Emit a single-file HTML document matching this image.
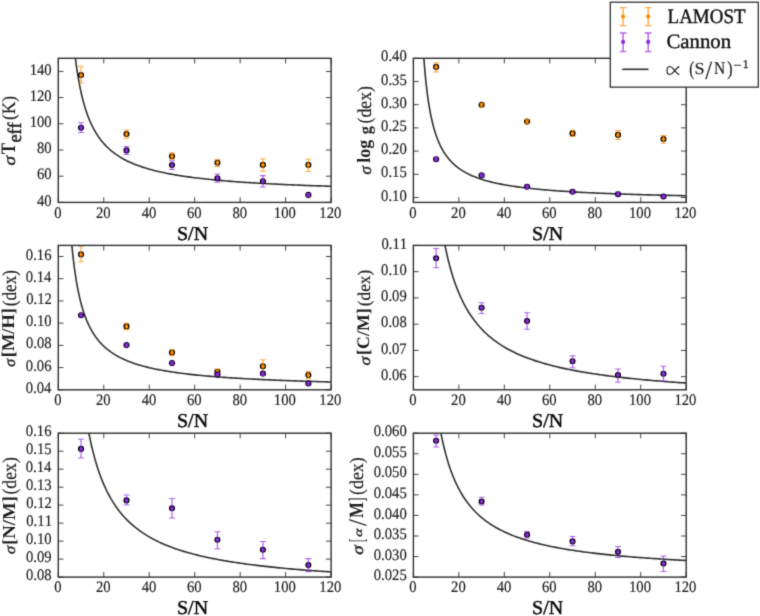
<!DOCTYPE html><html><head><meta charset="utf-8"><style>
html,body{margin:0;padding:0;background:#fff;width:760px;height:616px;overflow:hidden}
svg{display:block}
text{font-family:"Liberation Serif",serif;font-size:100px;font-kerning:none;font-variant-ligatures:none;font-feature-settings:"kern" 0,"liga" 0;text-rendering:geometricPrecision;white-space:pre}
.r{font-weight:normal;font-style:normal}.b{font-weight:bold;font-style:normal}.i{font-weight:normal;font-style:italic}
</style></head><body>
<svg width="760" height="616" viewBox="0 0 760 616">
<rect width="760" height="616" fill="#fff"/>
<filter id="bl" x="0" y="0" width="760" height="616" filterUnits="userSpaceOnUse" color-interpolation-filters="sRGB"><feConvolveMatrix order="3" kernelMatrix="0.0192 0.1001 0.0192 0.1001 0.5228 0.1001 0.0192 0.1001 0.0192" edgeMode="duplicate"/></filter><g filter="url(#bl)">
<clipPath id="c00"><rect x="58.3" y="58.3" width="272.8" height="144.1"/></clipPath>
<polyline clip-path="url(#c00)" points="75.04,55.3 75.26,57.17 75.49,58.99 75.72,60.76 75.94,62.49 76.17,64.18 76.4,65.82 76.63,67.42 76.85,68.98 77.08,70.5 77.31,71.99 77.54,73.44 77.76,74.86 77.99,76.24 78.22,77.6 78.45,78.92 78.67,80.22 78.9,81.48 79.13,82.72 79.35,83.93 79.58,85.11 79.81,86.27 80.04,87.41 80.26,88.52 80.49,89.61 80.72,90.68 80.95,91.72 81.17,92.75 81.74,95.22 82.31,97.58 82.88,99.83 83.45,101.98 84.01,104.03 84.58,105.99 85.15,107.88 85.72,109.68 86.29,111.41 86.86,113.07 87.42,114.66 87.99,116.2 88.56,117.68 89.13,119.1 89.7,120.47 90.27,121.79 90.83,123.07 91.4,124.3 91.97,125.49 92.54,126.64 93.11,127.76 93.68,128.83 94.24,129.88 94.81,130.89 95.38,131.87 95.95,132.82 96.52,133.74 97.09,134.64 97.65,135.51 98.22,136.35 98.79,137.17 99.36,137.97 99.93,138.75 100.5,139.5 101.06,140.24 101.63,140.96 102.2,141.65 102.77,142.33 103.34,143 103.91,143.64 106.18,146.07 108.45,148.28 110.73,150.3 113,152.16 115.27,153.86 117.55,155.43 119.82,156.89 122.09,158.24 124.37,159.5 126.64,160.68 128.91,161.78 131.19,162.81 133.46,163.78 135.73,164.69 138.01,165.55 140.28,166.36 142.55,167.13 144.83,167.86 147.1,168.55 149.37,169.21 151.65,169.83 153.92,170.43 156.19,170.99 158.47,171.53 160.74,172.05 163.01,172.55 165.29,173.02 167.56,173.48 169.83,173.91 172.11,174.33 174.38,174.73 176.65,175.12 178.93,175.49 181.2,175.85 183.47,176.19 185.75,176.53 188.02,176.85 190.29,177.16 192.57,177.46 194.84,177.75 197.11,178.03 199.39,178.3 201.66,178.56 203.93,178.81 206.21,179.06 208.48,179.3 210.75,179.53 213.03,179.76 215.3,179.97 217.57,180.19 219.85,180.39 222.12,180.59 224.39,180.79 226.67,180.98 228.94,181.16 231.21,181.34 233.49,181.52 235.76,181.69 238.03,181.86 240.31,182.02 242.58,182.18 244.85,182.33 247.13,182.48 249.4,182.63 251.67,182.77 253.95,182.91 256.22,183.05 258.49,183.18 260.77,183.32 263.04,183.44 265.31,183.57 267.59,183.69 269.86,183.81 272.13,183.93 274.41,184.04 276.68,184.16 278.95,184.27 281.23,184.37 283.5,184.48 285.77,184.58 288.05,184.68 290.32,184.78 292.59,184.88 294.87,184.98 297.14,185.07 299.41,185.16 301.69,185.25 303.96,185.34 306.23,185.43 308.51,185.52 310.78,185.6 313.05,185.68 315.33,185.76 317.6,185.84 319.87,185.92 322.15,186 324.42,186.07 326.69,186.15 328.97,186.22 331.1,186.29" fill="none" stroke="#303030" stroke-width="1.6"/>
<circle cx="81.03" cy="75.1" r="2.45" fill="#ff8c00" stroke="#000" stroke-width="1.2"/>
<circle cx="126.5" cy="134" r="2.45" fill="#ff8c00" stroke="#000" stroke-width="1.2"/>
<circle cx="171.97" cy="156.2" r="2.45" fill="#ff8c00" stroke="#000" stroke-width="1.2"/>
<circle cx="217.43" cy="162.7" r="2.45" fill="#ff8c00" stroke="#000" stroke-width="1.2"/>
<circle cx="262.9" cy="164.9" r="2.45" fill="#ff8c00" stroke="#000" stroke-width="1.2"/>
<circle cx="308.37" cy="164.9" r="2.45" fill="#ff8c00" stroke="#000" stroke-width="1.2"/>
<g stroke="#ff8c00" stroke-opacity="0.68" fill="none"><path d="M81.03 66.2V83M126.5 130V138.2M171.97 152.7V159.3M217.43 159.3V166.5M262.9 158.8V171.2M308.37 159.3V171.4" stroke-width="1.3"/><path d="M78.03 66.2H84.03M78.03 83H84.03M123.5 130H129.5M123.5 138.2H129.5M168.97 152.7H174.97M168.97 159.3H174.97M214.43 159.3H220.43M214.43 166.5H220.43M259.9 158.8H265.9M259.9 171.2H265.9M305.37 159.3H311.37M305.37 171.4H311.37" stroke-width="1.05"/></g>
<circle cx="81.03" cy="127.7" r="2.45" fill="#8a2be2" stroke="#000" stroke-width="1.2"/>
<circle cx="126.5" cy="150.4" r="2.45" fill="#8a2be2" stroke="#000" stroke-width="1.2"/>
<circle cx="171.97" cy="165.1" r="2.45" fill="#8a2be2" stroke="#000" stroke-width="1.2"/>
<circle cx="217.43" cy="178.2" r="2.45" fill="#8a2be2" stroke="#000" stroke-width="1.2"/>
<circle cx="262.9" cy="181.2" r="2.45" fill="#8a2be2" stroke="#000" stroke-width="1.2"/>
<circle cx="308.37" cy="194.9" r="2.45" fill="#8a2be2" stroke="#000" stroke-width="1.2"/>
<g stroke="#8a2be2" stroke-opacity="0.68" fill="none"><path d="M81.03 122.8V132.4M126.5 146.4V154.4M171.97 160.8V169.5M217.43 174V182.1M262.9 175.6V187M308.37 193.5V196.4" stroke-width="1.3"/><path d="M78.03 122.8H84.03M78.03 132.4H84.03M123.5 146.4H129.5M123.5 154.4H129.5M168.97 160.8H174.97M168.97 169.5H174.97M214.43 174H220.43M214.43 182.1H220.43M259.9 175.6H265.9M259.9 187H265.9M305.37 193.5H311.37M305.37 196.4H311.37" stroke-width="1.05"/></g>
<rect x="58.3" y="58.3" width="272.8" height="144.1" fill="none" stroke="#303030" stroke-width="1.4"/>
<path d="M58.3 202.4v-5.2M58.3 58.3v5.2M103.77 202.4v-5.2M103.77 58.3v5.2M149.23 202.4v-5.2M149.23 58.3v5.2M194.7 202.4v-5.2M194.7 58.3v5.2M240.17 202.4v-5.2M240.17 58.3v5.2M285.63 202.4v-5.2M285.63 58.3v5.2M331.1 202.4v-5.2M331.1 58.3v5.2M58.3 202.4h5.2M331.1 202.4h-5.2M58.3 176.2h5.2M331.1 176.2h-5.2M58.3 150h5.2M331.1 150h-5.2M58.3 123.8h5.2M331.1 123.8h-5.2M58.3 97.6h5.2M331.1 97.6h-5.2M58.3 71.4h5.2M331.1 71.4h-5.2" stroke="#303030" stroke-width="0.9" fill="none"/>
<clipPath id="c10"><rect x="413.4" y="58.3" width="272.8" height="144.1"/></clipPath>
<polyline clip-path="url(#c10)" points="423.66,55.3 423.89,58.46 424.12,61.49 424.34,64.39 424.57,67.18 424.8,69.85 425.03,72.42 425.25,74.89 425.48,77.27 425.71,79.56 425.94,81.76 426.16,83.89 426.39,85.95 426.62,87.93 426.84,89.85 427.07,91.7 427.3,93.49 427.53,95.22 427.75,96.9 427.98,98.53 428.21,100.1 428.44,101.63 428.66,103.12 428.89,104.56 429.12,105.95 429.35,107.31 429.57,108.63 429.8,109.92 430.03,111.17 430.25,112.38 430.48,113.56 430.71,114.71 430.94,115.84 431.16,116.93 431.39,117.99 431.62,119.03 431.85,120.05 432.07,121.03 432.3,122 432.53,122.94 432.76,123.86 432.98,124.76 433.21,125.64 433.44,126.49 433.66,127.33 433.89,128.15 434.12,128.95 434.35,129.74 434.57,130.5 434.8,131.26 435.03,131.99 435.26,132.71 435.48,133.42 435.71,134.11 435.94,134.79 436.17,135.45 436.73,137.05 437.3,138.58 437.87,140.03 438.44,141.42 439.01,142.75 439.58,144.02 440.14,145.23 440.71,146.4 441.28,147.52 441.85,148.59 442.42,149.62 442.99,150.61 443.55,151.57 444.12,152.49 444.69,153.37 445.26,154.22 445.83,155.05 446.4,155.84 446.96,156.61 447.53,157.36 448.1,158.07 448.67,158.77 449.24,159.44 449.81,160.09 450.37,160.73 450.94,161.34 451.51,161.94 452.08,162.51 452.65,163.07 453.22,163.62 453.78,164.15 454.35,164.66 454.92,165.16 455.49,165.65 456.06,166.12 456.63,166.59 457.19,167.03 457.76,167.47 458.33,167.9 458.9,168.32 461.17,169.88 463.45,171.31 465.72,172.61 467.99,173.8 470.27,174.9 472.54,175.91 474.81,176.84 477.09,177.72 479.36,178.53 481.63,179.28 483.91,179.99 486.18,180.65 488.45,181.28 490.73,181.86 493,182.42 495.27,182.94 497.55,183.43 499.82,183.9 502.09,184.35 504.37,184.77 506.64,185.17 508.91,185.55 511.19,185.92 513.46,186.26 515.73,186.6 518.01,186.91 520.28,187.22 522.55,187.51 524.83,187.79 527.1,188.06 529.37,188.32 531.65,188.57 533.92,188.8 536.19,189.03 538.47,189.26 540.74,189.47 543.01,189.68 545.29,189.88 547.56,190.07 549.83,190.25 552.11,190.43 554.38,190.61 556.65,190.78 558.93,190.94 561.2,191.1 563.47,191.25 565.75,191.4 568.02,191.54 570.29,191.68 572.57,191.82 574.84,191.95 577.11,192.08 579.39,192.21 581.66,192.33 583.93,192.45 586.21,192.56 588.48,192.68 590.75,192.79 593.03,192.89 595.3,193 597.57,193.1 599.85,193.2 602.12,193.29 604.39,193.39 606.67,193.48 608.94,193.57 611.21,193.66 613.49,193.75 615.76,193.83 618.03,193.91 620.31,193.99 622.58,194.07 624.85,194.15 627.13,194.22 629.4,194.3 631.67,194.37 633.95,194.44 636.22,194.51 638.49,194.58 640.77,194.64 643.04,194.71 645.31,194.77 647.59,194.84 649.86,194.9 652.13,194.96 654.41,195.02 656.68,195.07 658.95,195.13 661.23,195.19 663.5,195.24 665.77,195.3 668.05,195.35 670.32,195.4 672.59,195.45 674.87,195.5 677.14,195.55 679.41,195.6 681.69,195.65 683.96,195.7 686.2,195.74" fill="none" stroke="#303030" stroke-width="1.6"/>
<circle cx="436.13" cy="66.9" r="2.45" fill="#ff8c00" stroke="#000" stroke-width="1.2"/>
<circle cx="481.6" cy="104.8" r="2.45" fill="#ff8c00" stroke="#000" stroke-width="1.2"/>
<circle cx="527.07" cy="121.6" r="2.45" fill="#ff8c00" stroke="#000" stroke-width="1.2"/>
<circle cx="572.53" cy="133.4" r="2.45" fill="#ff8c00" stroke="#000" stroke-width="1.2"/>
<circle cx="618" cy="134.9" r="2.45" fill="#ff8c00" stroke="#000" stroke-width="1.2"/>
<circle cx="663.47" cy="139" r="2.45" fill="#ff8c00" stroke="#000" stroke-width="1.2"/>
<g stroke="#ff8c00" stroke-opacity="0.68" fill="none"><path d="M436.13 62.7V72M481.6 103.1V107.2M527.07 119.5V123.5M572.53 130.2V136.5M618 130.6V139.5M663.47 135.6V143.2" stroke-width="1.3"/><path d="M433.13 62.7H439.13M433.13 72H439.13M478.6 103.1H484.6M478.6 107.2H484.6M524.07 119.5H530.07M524.07 123.5H530.07M569.53 130.2H575.53M569.53 136.5H575.53M615 130.6H621M615 139.5H621M660.47 135.6H666.47M660.47 143.2H666.47" stroke-width="1.05"/></g>
<circle cx="436.13" cy="159.3" r="2.45" fill="#8a2be2" stroke="#000" stroke-width="1.2"/>
<circle cx="481.6" cy="175.4" r="2.45" fill="#8a2be2" stroke="#000" stroke-width="1.2"/>
<circle cx="527.07" cy="186.7" r="2.45" fill="#8a2be2" stroke="#000" stroke-width="1.2"/>
<circle cx="572.53" cy="191.8" r="2.45" fill="#8a2be2" stroke="#000" stroke-width="1.2"/>
<circle cx="618" cy="194.2" r="2.45" fill="#8a2be2" stroke="#000" stroke-width="1.2"/>
<circle cx="663.47" cy="196.5" r="2.45" fill="#8a2be2" stroke="#000" stroke-width="1.2"/>
<g stroke="#8a2be2" stroke-opacity="0.68" fill="none"><path d="M436.13 157.5V161M481.6 173.5V177.3M527.07 185V188.5M572.53 190V193.5M618 192.3V196M663.47 195V198" stroke-width="1.3"/><path d="M433.13 157.5H439.13M433.13 161H439.13M478.6 173.5H484.6M478.6 177.3H484.6M524.07 185H530.07M524.07 188.5H530.07M569.53 190H575.53M569.53 193.5H575.53M615 192.3H621M615 196H621M660.47 195H666.47M660.47 198H666.47" stroke-width="1.05"/></g>
<rect x="413.4" y="58.3" width="272.8" height="144.1" fill="none" stroke="#303030" stroke-width="1.4"/>
<path d="M413.4 202.4v-5.2M413.4 58.3v5.2M458.87 202.4v-5.2M458.87 58.3v5.2M504.33 202.4v-5.2M504.33 58.3v5.2M549.8 202.4v-5.2M549.8 58.3v5.2M595.27 202.4v-5.2M595.27 58.3v5.2M640.73 202.4v-5.2M640.73 58.3v5.2M686.2 202.4v-5.2M686.2 58.3v5.2M413.4 197.48h5.2M686.2 197.48h-5.2M413.4 174.29h5.2M686.2 174.29h-5.2M413.4 151.09h5.2M686.2 151.09h-5.2M413.4 127.89h5.2M686.2 127.89h-5.2M413.4 104.69h5.2M686.2 104.69h-5.2M413.4 81.5h5.2M686.2 81.5h-5.2M413.4 58.3h5.2M686.2 58.3h-5.2" stroke="#303030" stroke-width="0.9" fill="none"/>
<clipPath id="c01"><rect x="58.3" y="245.4" width="272.8" height="144.4"/></clipPath>
<polyline clip-path="url(#c01)" points="71.61,242.4 71.84,244.86 72.06,247.25 72.29,249.55 72.52,251.79 72.75,253.95 72.97,256.04 73.2,258.07 73.43,260.04 73.65,261.95 73.88,263.81 74.11,265.61 74.34,267.36 74.56,269.07 74.79,270.72 75.02,272.33 75.25,273.9 75.47,275.42 75.7,276.91 75.93,278.36 76.16,279.77 76.38,281.14 76.61,282.48 76.84,283.79 77.06,285.07 77.29,286.31 77.52,287.53 77.75,288.72 77.97,289.88 78.2,291.01 78.43,292.12 78.66,293.21 78.88,294.27 79.11,295.3 79.34,296.32 79.57,297.31 79.79,298.28 80.02,299.23 80.25,300.16 80.47,301.07 80.7,301.97 80.93,302.84 81.16,303.7 81.72,305.78 82.29,307.75 82.86,309.63 83.43,311.43 84,313.15 84.57,314.8 85.13,316.37 85.7,317.88 86.27,319.33 86.84,320.72 87.41,322.05 87.98,323.34 88.54,324.58 89.11,325.77 89.68,326.91 90.25,328.02 90.82,329.09 91.39,330.12 91.95,331.12 92.52,332.08 93.09,333.01 93.66,333.92 94.23,334.79 94.8,335.64 95.36,336.46 95.93,337.25 96.5,338.03 97.07,338.77 97.64,339.5 98.21,340.21 98.77,340.9 99.34,341.57 99.91,342.21 100.48,342.85 101.05,343.46 101.62,344.06 102.18,344.65 102.75,345.22 103.32,345.77 103.89,346.31 106.16,348.35 108.44,350.2 110.71,351.89 112.98,353.43 115.26,354.86 117.53,356.18 119.8,357.39 122.08,358.53 124.35,359.58 126.62,360.56 128.9,361.49 131.17,362.35 133.44,363.16 135.72,363.92 137.99,364.64 140.26,365.32 142.54,365.96 144.81,366.57 147.08,367.15 149.36,367.7 151.63,368.22 153.9,368.72 156.18,369.2 158.45,369.65 160.72,370.08 163,370.5 165.27,370.89 167.54,371.27 169.82,371.64 172.09,371.99 174.36,372.32 176.64,372.65 178.91,372.96 181.18,373.26 183.46,373.55 185.73,373.82 188,374.09 190.28,374.35 192.55,374.6 194.82,374.84 197.1,375.08 199.37,375.31 201.64,375.53 203.92,375.74 206.19,375.94 208.46,376.14 210.74,376.34 213.01,376.53 215.28,376.71 217.56,376.89 219.83,377.06 222.1,377.23 224.38,377.39 226.65,377.55 228.92,377.7 231.2,377.85 233.47,378 235.74,378.14 238.02,378.28 240.29,378.42 242.56,378.55 244.84,378.68 247.11,378.81 249.38,378.93 251.66,379.05 253.93,379.17 256.2,379.28 258.48,379.39 260.75,379.5 263.02,379.61 265.3,379.71 267.57,379.82 269.84,379.92 272.12,380.02 274.39,380.11 276.66,380.21 278.94,380.3 281.21,380.39 283.48,380.48 285.76,380.56 288.03,380.65 290.3,380.73 292.58,380.81 294.85,380.89 297.12,380.97 299.4,381.05 301.67,381.13 303.94,381.2 306.22,381.27 308.49,381.34 310.76,381.41 313.04,381.48 315.31,381.55 317.58,381.62 319.86,381.68 322.13,381.75 324.4,381.81 326.68,381.87 328.95,381.93 331.1,381.99" fill="none" stroke="#303030" stroke-width="1.6"/>
<circle cx="81.03" cy="254.4" r="2.45" fill="#ff8c00" stroke="#000" stroke-width="1.2"/>
<circle cx="126.5" cy="326.4" r="2.45" fill="#ff8c00" stroke="#000" stroke-width="1.2"/>
<circle cx="171.97" cy="352.6" r="2.45" fill="#ff8c00" stroke="#000" stroke-width="1.2"/>
<circle cx="217.43" cy="371.7" r="2.45" fill="#ff8c00" stroke="#000" stroke-width="1.2"/>
<circle cx="262.9" cy="366.2" r="2.45" fill="#ff8c00" stroke="#000" stroke-width="1.2"/>
<circle cx="308.37" cy="375.1" r="2.45" fill="#ff8c00" stroke="#000" stroke-width="1.2"/>
<g stroke="#ff8c00" stroke-opacity="0.68" fill="none"><path d="M81.03 246.2V261.8M126.5 323.2V329.6M171.97 349.6V355.6M217.43 369V374.5M262.9 359.7V372.5M308.37 371.5V378.5" stroke-width="1.3"/><path d="M78.03 246.2H84.03M78.03 261.8H84.03M123.5 323.2H129.5M123.5 329.6H129.5M168.97 349.6H174.97M168.97 355.6H174.97M214.43 369H220.43M214.43 374.5H220.43M259.9 359.7H265.9M259.9 372.5H265.9M305.37 371.5H311.37M305.37 378.5H311.37" stroke-width="1.05"/></g>
<circle cx="81.03" cy="315.2" r="2.45" fill="#8a2be2" stroke="#000" stroke-width="1.2"/>
<circle cx="126.5" cy="345.1" r="2.45" fill="#8a2be2" stroke="#000" stroke-width="1.2"/>
<circle cx="171.97" cy="363.1" r="2.45" fill="#8a2be2" stroke="#000" stroke-width="1.2"/>
<circle cx="217.43" cy="374.5" r="2.45" fill="#8a2be2" stroke="#000" stroke-width="1.2"/>
<circle cx="262.9" cy="373.6" r="2.45" fill="#8a2be2" stroke="#000" stroke-width="1.2"/>
<circle cx="308.37" cy="383.4" r="2.45" fill="#8a2be2" stroke="#000" stroke-width="1.2"/>
<g stroke="#8a2be2" stroke-opacity="0.68" fill="none"><path d="M81.03 313.5V317M126.5 343.5V346.8M171.97 361.5V364.8M217.43 373V376M262.9 372V375.5M308.37 382V385" stroke-width="1.3"/><path d="M78.03 313.5H84.03M78.03 317H84.03M123.5 343.5H129.5M123.5 346.8H129.5M168.97 361.5H174.97M168.97 364.8H174.97M214.43 373H220.43M214.43 376H220.43M259.9 372H265.9M259.9 375.5H265.9M305.37 382H311.37M305.37 385H311.37" stroke-width="1.05"/></g>
<rect x="58.3" y="245.4" width="272.8" height="144.4" fill="none" stroke="#303030" stroke-width="1.4"/>
<path d="M58.3 389.8v-5.2M58.3 245.4v5.2M103.77 389.8v-5.2M103.77 245.4v5.2M149.23 389.8v-5.2M149.23 245.4v5.2M194.7 389.8v-5.2M194.7 245.4v5.2M240.17 389.8v-5.2M240.17 245.4v5.2M285.63 389.8v-5.2M285.63 245.4v5.2M331.1 389.8v-5.2M331.1 245.4v5.2M58.3 389.8h5.2M331.1 389.8h-5.2M58.3 367.58h5.2M331.1 367.58h-5.2M58.3 345.37h5.2M331.1 345.37h-5.2M58.3 323.15h5.2M331.1 323.15h-5.2M58.3 300.94h5.2M331.1 300.94h-5.2M58.3 278.72h5.2M331.1 278.72h-5.2M58.3 256.51h5.2M331.1 256.51h-5.2" stroke="#303030" stroke-width="0.9" fill="none"/>
<clipPath id="c11"><rect x="413.4" y="245.4" width="272.8" height="144.4"/></clipPath>
<polyline clip-path="url(#c11)" points="444.37,242.4 444.94,245.26 445.5,248.02 446.07,250.68 446.64,253.25 447.21,255.73 447.78,258.14 448.35,260.46 448.91,262.71 449.48,264.89 450.05,267 450.62,269.05 451.19,271.03 451.76,272.96 452.32,274.83 452.89,276.65 453.46,278.41 454.03,280.13 454.6,281.8 455.17,283.42 455.73,285 456.3,286.54 456.87,288.03 457.44,289.49 458.01,290.91 458.58,292.3 459.14,293.65 461.42,298.73 463.69,303.36 465.96,307.58 468.24,311.46 470.51,315.03 472.78,318.32 475.06,321.37 477.33,324.2 479.6,326.84 481.88,329.3 484.15,331.61 486.42,333.77 488.7,335.8 490.97,337.72 493.24,339.52 495.52,341.22 497.79,342.83 500.06,344.36 502.34,345.81 504.61,347.19 506.88,348.5 509.16,349.74 511.43,350.93 513.7,352.07 515.98,353.16 518.25,354.19 520.52,355.19 522.8,356.14 525.07,357.06 527.34,357.93 529.62,358.78 531.89,359.59 534.16,360.37 536.44,361.12 538.71,361.84 540.98,362.54 543.26,363.22 545.53,363.87 547.8,364.5 550.08,365.1 552.35,365.69 554.62,366.26 556.9,366.81 559.17,367.35 561.44,367.86 563.72,368.37 565.99,368.85 568.26,369.33 570.54,369.78 572.81,370.23 575.08,370.66 577.36,371.09 579.63,371.5 581.9,371.89 584.18,372.28 586.45,372.66 588.72,373.03 591,373.39 593.27,373.74 595.54,374.08 597.82,374.41 600.09,374.73 602.36,375.05 604.64,375.36 606.91,375.66 609.18,375.96 611.46,376.24 613.73,376.53 616,376.8 618.28,377.07 620.55,377.33 622.82,377.59 625.1,377.84 627.37,378.09 629.64,378.33 631.92,378.57 634.19,378.8 636.46,379.03 638.74,379.25 641.01,379.47 643.28,379.68 645.56,379.89 647.83,380.09 650.1,380.29 652.38,380.49 654.65,380.69 656.92,380.88 659.2,381.06 661.47,381.25 663.74,381.43 666.02,381.6 668.29,381.78 670.56,381.95 672.84,382.11 675.11,382.28 677.38,382.44 679.66,382.6 681.93,382.75 684.2,382.91 686.2,383.04" fill="none" stroke="#303030" stroke-width="1.6"/>
<circle cx="436.13" cy="258.3" r="2.45" fill="#8a2be2" stroke="#000" stroke-width="1.2"/>
<circle cx="481.6" cy="307.7" r="2.45" fill="#8a2be2" stroke="#000" stroke-width="1.2"/>
<circle cx="527.07" cy="321" r="2.45" fill="#8a2be2" stroke="#000" stroke-width="1.2"/>
<circle cx="572.53" cy="361.2" r="2.45" fill="#8a2be2" stroke="#000" stroke-width="1.2"/>
<circle cx="618" cy="375.1" r="2.45" fill="#8a2be2" stroke="#000" stroke-width="1.2"/>
<circle cx="663.47" cy="373.7" r="2.45" fill="#8a2be2" stroke="#000" stroke-width="1.2"/>
<g stroke="#8a2be2" stroke-opacity="0.68" fill="none"><path d="M436.13 248.5V267.7M481.6 302.8V313.5M527.07 312.8V329.2M572.53 355.7V367.7M618 369V382.2M663.47 366.2V381.1" stroke-width="1.3"/><path d="M433.13 248.5H439.13M433.13 267.7H439.13M478.6 302.8H484.6M478.6 313.5H484.6M524.07 312.8H530.07M524.07 329.2H530.07M569.53 355.7H575.53M569.53 367.7H575.53M615 369H621M615 382.2H621M660.47 366.2H666.47M660.47 381.1H666.47" stroke-width="1.05"/></g>
<rect x="413.4" y="245.4" width="272.8" height="144.4" fill="none" stroke="#303030" stroke-width="1.4"/>
<path d="M413.4 389.8v-5.2M413.4 245.4v5.2M458.87 389.8v-5.2M458.87 245.4v5.2M504.33 389.8v-5.2M504.33 245.4v5.2M549.8 389.8v-5.2M549.8 245.4v5.2M595.27 389.8v-5.2M595.27 245.4v5.2M640.73 389.8v-5.2M640.73 245.4v5.2M686.2 389.8v-5.2M686.2 245.4v5.2M413.4 376.67h5.2M686.2 376.67h-5.2M413.4 350.42h5.2M686.2 350.42h-5.2M413.4 324.16h5.2M686.2 324.16h-5.2M413.4 297.91h5.2M686.2 297.91h-5.2M413.4 271.65h5.2M686.2 271.65h-5.2M413.4 245.4h5.2M686.2 245.4h-5.2" stroke="#303030" stroke-width="0.9" fill="none"/>
<clipPath id="c02"><rect x="58.3" y="433.2" width="272.8" height="143.9"/></clipPath>
<polyline clip-path="url(#c02)" points="88.31,430.2 88.88,433.16 89.45,436.01 90.02,438.76 90.58,441.41 91.15,443.98 91.72,446.45 92.29,448.84 92.86,451.15 93.43,453.39 93.99,455.56 94.56,457.66 95.13,459.69 95.7,461.66 96.27,463.58 96.84,465.43 97.4,467.23 97.97,468.99 98.54,470.69 99.11,472.34 99.68,473.95 100.25,475.52 100.81,477.04 101.38,478.52 101.95,479.97 102.52,481.37 103.09,482.74 103.66,484.08 104.22,485.39 106.5,490.3 108.77,494.76 111.04,498.84 113.32,502.59 115.59,506.03 117.86,509.22 120.14,512.17 122.41,514.91 124.68,517.46 126.96,519.85 129.23,522.08 131.5,524.17 133.78,526.14 136.05,527.99 138.32,529.73 140.6,531.38 142.87,532.95 145.14,534.42 147.42,535.83 149.69,537.16 151.96,538.43 154.24,539.64 156.51,540.79 158.78,541.9 161.06,542.95 163.33,543.95 165.6,544.92 167.88,545.84 170.15,546.73 172.42,547.58 174.7,548.4 176.97,549.18 179.24,549.94 181.52,550.67 183.79,551.37 186.06,552.05 188.34,552.71 190.61,553.34 192.88,553.95 195.16,554.54 197.43,555.11 199.7,555.66 201.98,556.19 204.25,556.71 206.52,557.22 208.8,557.7 211.07,558.17 213.34,558.63 215.62,559.08 217.89,559.51 220.16,559.93 222.44,560.34 224.71,560.74 226.98,561.13 229.26,561.5 231.53,561.87 233.8,562.23 236.08,562.58 238.35,562.91 240.62,563.25 242.9,563.57 245.17,563.88 247.44,564.19 249.72,564.49 251.99,564.78 254.26,565.07 256.54,565.35 258.81,565.62 261.08,565.89 263.36,566.15 265.63,566.41 267.9,566.66 270.18,566.9 272.45,567.14 274.72,567.38 277,567.61 279.27,567.83 281.54,568.05 283.82,568.27 286.09,568.48 288.36,568.69 290.64,568.89 292.91,569.09 295.18,569.28 297.46,569.48 299.73,569.66 302,569.85 304.28,570.03 306.55,570.21 308.82,570.38 311.1,570.55 313.37,570.72 315.64,570.89 317.92,571.05 320.19,571.21 322.46,571.37 324.74,571.52 327.01,571.67 329.28,571.82 331.1,571.94" fill="none" stroke="#303030" stroke-width="1.6"/>
<circle cx="81.03" cy="448.9" r="2.45" fill="#8a2be2" stroke="#000" stroke-width="1.2"/>
<circle cx="126.5" cy="500.4" r="2.45" fill="#8a2be2" stroke="#000" stroke-width="1.2"/>
<circle cx="171.97" cy="508.3" r="2.45" fill="#8a2be2" stroke="#000" stroke-width="1.2"/>
<circle cx="217.43" cy="539.7" r="2.45" fill="#8a2be2" stroke="#000" stroke-width="1.2"/>
<circle cx="262.9" cy="549.7" r="2.45" fill="#8a2be2" stroke="#000" stroke-width="1.2"/>
<circle cx="308.37" cy="565.1" r="2.45" fill="#8a2be2" stroke="#000" stroke-width="1.2"/>
<g stroke="#8a2be2" stroke-opacity="0.68" fill="none"><path d="M81.03 439.3V458M126.5 495V505M171.97 498.5V517.9M217.43 531.7V549M262.9 541.4V558.6M308.37 558.6V571.6" stroke-width="1.3"/><path d="M78.03 439.3H84.03M78.03 458H84.03M123.5 495H129.5M123.5 505H129.5M168.97 498.5H174.97M168.97 517.9H174.97M214.43 531.7H220.43M214.43 549H220.43M259.9 541.4H265.9M259.9 558.6H265.9M305.37 558.6H311.37M305.37 571.6H311.37" stroke-width="1.05"/></g>
<rect x="58.3" y="433.2" width="272.8" height="143.9" fill="none" stroke="#303030" stroke-width="1.4"/>
<path d="M58.3 577.1v-5.2M58.3 433.2v5.2M103.77 577.1v-5.2M103.77 433.2v5.2M149.23 577.1v-5.2M149.23 433.2v5.2M194.7 577.1v-5.2M194.7 433.2v5.2M240.17 577.1v-5.2M240.17 433.2v5.2M285.63 577.1v-5.2M285.63 433.2v5.2M331.1 577.1v-5.2M331.1 433.2v5.2M58.3 577.1h5.2M331.1 577.1h-5.2M58.3 559.11h5.2M331.1 559.11h-5.2M58.3 541.12h5.2M331.1 541.12h-5.2M58.3 523.14h5.2M331.1 523.14h-5.2M58.3 505.15h5.2M331.1 505.15h-5.2M58.3 487.16h5.2M331.1 487.16h-5.2M58.3 469.17h5.2M331.1 469.17h-5.2M58.3 451.19h5.2M331.1 451.19h-5.2M58.3 433.2h5.2M331.1 433.2h-5.2" stroke="#303030" stroke-width="0.9" fill="none"/>
<clipPath id="c12"><rect x="413.4" y="433.2" width="272.8" height="143.9"/></clipPath>
<polyline clip-path="url(#c12)" points="440.39,430.2 440.96,433.18 441.53,436.04 442.1,438.79 442.67,441.43 443.23,443.97 443.8,446.42 444.37,448.77 444.94,451.04 445.51,453.23 446.08,455.35 446.64,457.39 447.21,459.36 447.78,461.27 448.35,463.12 448.92,464.9 449.49,466.64 450.05,468.31 450.62,469.94 451.19,471.51 451.76,473.05 452.33,474.53 452.9,475.97 453.46,477.38 454.03,478.74 454.6,480.06 455.17,481.35 455.74,482.61 456.31,483.83 456.87,485.02 457.44,486.17 458.01,487.3 458.58,488.4 459.15,489.48 461.42,493.52 463.69,497.19 465.97,500.55 468.24,503.62 470.51,506.46 472.79,509.07 475.06,511.49 477.33,513.75 479.61,515.84 481.88,517.8 484.15,519.63 486.43,521.35 488.7,522.96 490.97,524.48 493.25,525.91 495.52,527.26 497.79,528.54 500.07,529.76 502.34,530.91 504.61,532 506.89,533.04 509.16,534.03 511.43,534.98 513.71,535.88 515.98,536.74 518.25,537.57 520.53,538.36 522.8,539.12 525.07,539.84 527.35,540.54 529.62,541.21 531.89,541.85 534.17,542.47 536.44,543.07 538.71,543.65 540.99,544.2 543.26,544.74 545.53,545.25 547.81,545.75 550.08,546.24 552.35,546.7 554.63,547.15 556.9,547.59 559.17,548.02 561.45,548.43 563.72,548.83 565.99,549.21 568.27,549.59 570.54,549.95 572.81,550.31 575.09,550.65 577.36,550.99 579.63,551.31 581.91,551.63 584.18,551.94 586.45,552.24 588.73,552.53 591,552.81 593.27,553.09 595.55,553.36 597.82,553.63 600.09,553.88 602.37,554.14 604.64,554.38 606.91,554.62 609.19,554.86 611.46,555.08 613.73,555.31 616.01,555.53 618.28,555.74 620.55,555.95 622.83,556.15 625.1,556.35 627.37,556.55 629.65,556.74 631.92,556.93 634.19,557.11 636.47,557.29 638.74,557.47 641.01,557.64 643.29,557.81 645.56,557.98 647.83,558.14 650.11,558.3 652.38,558.46 654.65,558.61 656.93,558.76 659.2,558.91 661.47,559.06 663.75,559.2 666.02,559.34 668.29,559.48 670.57,559.61 672.84,559.75 675.11,559.88 677.39,560.01 679.66,560.13 681.93,560.26 684.21,560.38 686.2,560.48" fill="none" stroke="#303030" stroke-width="1.6"/>
<circle cx="436.13" cy="440.7" r="2.45" fill="#8a2be2" stroke="#000" stroke-width="1.2"/>
<circle cx="481.6" cy="501.5" r="2.45" fill="#8a2be2" stroke="#000" stroke-width="1.2"/>
<circle cx="527.07" cy="534.8" r="2.45" fill="#8a2be2" stroke="#000" stroke-width="1.2"/>
<circle cx="572.53" cy="541.4" r="2.45" fill="#8a2be2" stroke="#000" stroke-width="1.2"/>
<circle cx="618" cy="551.9" r="2.45" fill="#8a2be2" stroke="#000" stroke-width="1.2"/>
<circle cx="663.47" cy="563.5" r="2.45" fill="#8a2be2" stroke="#000" stroke-width="1.2"/>
<g stroke="#8a2be2" stroke-opacity="0.68" fill="none"><path d="M436.13 434.9V447M481.6 497.3V505M527.07 531.5V538M572.53 536.5V545.8M618 546.4V557.5M663.47 556V571.4" stroke-width="1.3"/><path d="M433.13 434.9H439.13M433.13 447H439.13M478.6 497.3H484.6M478.6 505H484.6M524.07 531.5H530.07M524.07 538H530.07M569.53 536.5H575.53M569.53 545.8H575.53M615 546.4H621M615 557.5H621M660.47 556H666.47M660.47 571.4H666.47" stroke-width="1.05"/></g>
<rect x="413.4" y="433.2" width="272.8" height="143.9" fill="none" stroke="#303030" stroke-width="1.4"/>
<path d="M413.4 577.1v-5.2M413.4 433.2v5.2M458.87 577.1v-5.2M458.87 433.2v5.2M504.33 577.1v-5.2M504.33 433.2v5.2M549.8 577.1v-5.2M549.8 433.2v5.2M595.27 577.1v-5.2M595.27 433.2v5.2M640.73 577.1v-5.2M640.73 433.2v5.2M686.2 577.1v-5.2M686.2 433.2v5.2M413.4 577.1h5.2M686.2 577.1h-5.2M413.4 556.54h5.2M686.2 556.54h-5.2M413.4 535.99h5.2M686.2 535.99h-5.2M413.4 515.43h5.2M686.2 515.43h-5.2M413.4 494.87h5.2M686.2 494.87h-5.2M413.4 474.31h5.2M686.2 474.31h-5.2M413.4 453.76h5.2M686.2 453.76h-5.2M413.4 433.2h5.2M686.2 433.2h-5.2" stroke="#303030" stroke-width="0.9" fill="none"/>
<rect x="610.3" y="2.2" width="148" height="84.95" fill="#fff" stroke="#303030" stroke-width="1.3"/>
<path d="M623.1 7.6V25.6M619.9 7.6H626.3M619.9 25.6H626.3" stroke="#ffab4d" stroke-width="1.45" fill="none"/>
<circle cx="623.1" cy="16.5" r="2.1" fill="#ff8c00"/>
<path d="M648.2 7.6V25.6M645 7.6H651.4M645 25.6H651.4" stroke="#ffab4d" stroke-width="1.45" fill="none"/>
<circle cx="648.2" cy="16.5" r="2.1" fill="#ff8c00"/>
<path d="M623.1 32.9V51.6M619.9 32.9H626.3M619.9 51.6H626.3" stroke="#b263e4" stroke-width="1.45" fill="none"/>
<circle cx="623.1" cy="41.9" r="2.1" fill="#8a2be2"/>
<path d="M648.2 32.9V51.6M645 32.9H651.4M645 51.6H651.4" stroke="#b263e4" stroke-width="1.45" fill="none"/>
<circle cx="648.2" cy="41.9" r="2.1" fill="#8a2be2"/>
<path d="M622.2 69.3H648.5" stroke="#303030" stroke-width="1.6"/>
<path d="M679.4 66.6C677.3 67.1 676.2 68.8 674.7 70.6C673.1 72.6 671.9 74.5 669.8 74.5C667.9 74.5 667.0 72.6 667.0 70.5C667.0 68.4 668.0 66.5 669.9 66.5C671.9 66.5 673.1 68.5 674.7 70.6C676.2 72.5 677.3 74.2 679.4 74.6" fill="none" stroke="#1e1e1e" stroke-width="1.15"/>
<rect x="734" y="64.75" width="7" height="0.9" fill="#1e1e1e"/>
<g fill="#1e1e1e" stroke="#1e1e1e" stroke-linejoin="round"><text stroke-width="1.174" class="r" transform="matrix(0.14688 0 0 0.16 54.228 217.7)">0</text><text stroke-width="1.174" class="r" transform="matrix(0.14688 0 0 0.16 95.97964 217.7)">20</text><text stroke-width="1.174" class="r" transform="matrix(0.14688 0 0 0.16 141.6256 217.7)">40</text><text stroke-width="1.174" class="r" transform="matrix(0.14688 0 0 0.16 186.92014 217.7)">60</text><text stroke-width="1.174" class="r" transform="matrix(0.14688 0 0 0.16 232.42267 217.7)">80</text><text stroke-width="1.174" class="r" transform="matrix(0.14688 0 0 0.16 273.85157 217.7)">100</text><text stroke-width="1.174" class="r" transform="matrix(0.14688 0 0 0.16 319.31823 217.7)">120</text><text stroke-width="1.174" class="r" transform="matrix(0.14688 0 0 0.16 36.97141 205.5)">40</text><text stroke-width="1.174" class="r" transform="matrix(0.14688 0 0 0.16 36.97141 179.3)">60</text><text stroke-width="1.174" class="r" transform="matrix(0.14688 0 0 0.16 36.97141 153.1)">80</text><text stroke-width="1.174" class="r" transform="matrix(0.14688 0 0 0.16 29.62741 126.9)">100</text><text stroke-width="1.174" class="r" transform="matrix(0.14688 0 0 0.16 29.62741 100.7)">120</text><text stroke-width="1.174" class="r" transform="matrix(0.14688 0 0 0.16 29.62741 74.5)">140</text><text stroke-width="1.174" class="r" transform="matrix(0.14688 0 0 0.16 409.328 217.7)">0</text><text stroke-width="1.174" class="r" transform="matrix(0.14688 0 0 0.16 451.07964 217.7)">20</text><text stroke-width="1.174" class="r" transform="matrix(0.14688 0 0 0.16 496.7256 217.7)">40</text><text stroke-width="1.174" class="r" transform="matrix(0.14688 0 0 0.16 542.02014 217.7)">60</text><text stroke-width="1.174" class="r" transform="matrix(0.14688 0 0 0.16 587.52267 217.7)">80</text><text stroke-width="1.174" class="r" transform="matrix(0.14688 0 0 0.16 628.95157 217.7)">100</text><text stroke-width="1.174" class="r" transform="matrix(0.14688 0 0 0.16 674.41823 217.7)">120</text><text stroke-width="1.174" class="r" transform="matrix(0.14688 0 0 0.16 381.05541 200.58223)">0.10</text><text stroke-width="1.174" class="r" transform="matrix(0.14688 0 0 0.16 381.06975 177.38519)">0.15</text><text stroke-width="1.174" class="r" transform="matrix(0.14688 0 0 0.16 381.05541 154.18815)">0.20</text><text stroke-width="1.174" class="r" transform="matrix(0.14688 0 0 0.16 381.06975 130.99111)">0.25</text><text stroke-width="1.174" class="r" transform="matrix(0.14688 0 0 0.16 381.05541 107.79408)">0.30</text><text stroke-width="1.174" class="r" transform="matrix(0.14688 0 0 0.16 381.06975 84.59704)">0.35</text><text stroke-width="1.174" class="r" transform="matrix(0.14688 0 0 0.16 381.05541 61.4)">0.40</text><text stroke-width="1.174" class="r" transform="matrix(0.14688 0 0 0.16 54.228 405.1)">0</text><text stroke-width="1.174" class="r" transform="matrix(0.14688 0 0 0.16 95.97964 405.1)">20</text><text stroke-width="1.174" class="r" transform="matrix(0.14688 0 0 0.16 141.6256 405.1)">40</text><text stroke-width="1.174" class="r" transform="matrix(0.14688 0 0 0.16 186.92014 405.1)">60</text><text stroke-width="1.174" class="r" transform="matrix(0.14688 0 0 0.16 232.42267 405.1)">80</text><text stroke-width="1.174" class="r" transform="matrix(0.14688 0 0 0.16 273.85157 405.1)">100</text><text stroke-width="1.174" class="r" transform="matrix(0.14688 0 0 0.16 319.31823 405.1)">120</text><text stroke-width="1.174" class="r" transform="matrix(0.14688 0 0 0.16 25.6255 392.9)">0.04</text><text stroke-width="1.174" class="r" transform="matrix(0.14688 0 0 0.16 25.83348 370.68462)">0.06</text><text stroke-width="1.174" class="r" transform="matrix(0.14688 0 0 0.16 25.95541 348.46923)">0.08</text><text stroke-width="1.174" class="r" transform="matrix(0.14688 0 0 0.16 25.95541 326.25385)">0.10</text><text stroke-width="1.174" class="r" transform="matrix(0.14688 0 0 0.16 26.20642 304.03846)">0.12</text><text stroke-width="1.174" class="r" transform="matrix(0.14688 0 0 0.16 25.6255 281.82308)">0.14</text><text stroke-width="1.174" class="r" transform="matrix(0.14688 0 0 0.16 25.83348 259.60769)">0.16</text><text stroke-width="1.174" class="r" transform="matrix(0.14688 0 0 0.16 409.328 405.1)">0</text><text stroke-width="1.174" class="r" transform="matrix(0.14688 0 0 0.16 451.07964 405.1)">20</text><text stroke-width="1.174" class="r" transform="matrix(0.14688 0 0 0.16 496.7256 405.1)">40</text><text stroke-width="1.174" class="r" transform="matrix(0.14688 0 0 0.16 542.02014 405.1)">60</text><text stroke-width="1.174" class="r" transform="matrix(0.14688 0 0 0.16 587.52267 405.1)">80</text><text stroke-width="1.174" class="r" transform="matrix(0.14688 0 0 0.16 628.95157 405.1)">100</text><text stroke-width="1.174" class="r" transform="matrix(0.14688 0 0 0.16 674.41823 405.1)">120</text><text stroke-width="1.174" class="r" transform="matrix(0.14688 0 0 0.16 380.93348 379.77273)">0.06</text><text stroke-width="1.174" class="r" transform="matrix(0.14688 0 0 0.16 380.91914 353.51818)">0.07</text><text stroke-width="1.174" class="r" transform="matrix(0.14688 0 0 0.16 381.05541 327.26364)">0.08</text><text stroke-width="1.174" class="r" transform="matrix(0.14688 0 0 0.16 381.09844 301.00909)">0.09</text><text stroke-width="1.174" class="r" transform="matrix(0.14688 0 0 0.16 381.05541 274.75455)">0.10</text><text stroke-width="1.174" class="r" transform="matrix(0.14688 0 0 0.16 381.37814 248.5)">0.11</text><text stroke-width="1.174" class="r" transform="matrix(0.14688 0 0 0.16 54.228 592.4)">0</text><text stroke-width="1.174" class="r" transform="matrix(0.14688 0 0 0.16 95.97964 592.4)">20</text><text stroke-width="1.174" class="r" transform="matrix(0.14688 0 0 0.16 141.6256 592.4)">40</text><text stroke-width="1.174" class="r" transform="matrix(0.14688 0 0 0.16 186.92014 592.4)">60</text><text stroke-width="1.174" class="r" transform="matrix(0.14688 0 0 0.16 232.42267 592.4)">80</text><text stroke-width="1.174" class="r" transform="matrix(0.14688 0 0 0.16 273.85157 592.4)">100</text><text stroke-width="1.174" class="r" transform="matrix(0.14688 0 0 0.16 319.31823 592.4)">120</text><text stroke-width="1.174" class="r" transform="matrix(0.14688 0 0 0.16 25.95541 580.2)">0.08</text><text stroke-width="1.174" class="r" transform="matrix(0.14688 0 0 0.16 25.99844 562.2125)">0.09</text><text stroke-width="1.174" class="r" transform="matrix(0.14688 0 0 0.16 25.95541 544.225)">0.10</text><text stroke-width="1.174" class="r" transform="matrix(0.14688 0 0 0.16 26.27814 526.2375)">0.11</text><text stroke-width="1.174" class="r" transform="matrix(0.14688 0 0 0.16 26.20642 508.25)">0.12</text><text stroke-width="1.174" class="r" transform="matrix(0.14688 0 0 0.16 25.96975 490.2625)">0.13</text><text stroke-width="1.174" class="r" transform="matrix(0.14688 0 0 0.16 25.6255 472.275)">0.14</text><text stroke-width="1.174" class="r" transform="matrix(0.14688 0 0 0.16 25.96975 454.2875)">0.15</text><text stroke-width="1.174" class="r" transform="matrix(0.14688 0 0 0.16 25.83348 436.3)">0.16</text><text stroke-width="1.174" class="r" transform="matrix(0.14688 0 0 0.16 409.328 592.4)">0</text><text stroke-width="1.174" class="r" transform="matrix(0.14688 0 0 0.16 451.07964 592.4)">20</text><text stroke-width="1.174" class="r" transform="matrix(0.14688 0 0 0.16 496.7256 592.4)">40</text><text stroke-width="1.174" class="r" transform="matrix(0.14688 0 0 0.16 542.02014 592.4)">60</text><text stroke-width="1.174" class="r" transform="matrix(0.14688 0 0 0.16 587.52267 592.4)">80</text><text stroke-width="1.174" class="r" transform="matrix(0.14688 0 0 0.16 628.95157 592.4)">100</text><text stroke-width="1.174" class="r" transform="matrix(0.14688 0 0 0.16 674.41823 592.4)">120</text><text stroke-width="1.174" class="r" transform="matrix(0.14688 0 0 0.16 373.72575 580.2)">0.025</text><text stroke-width="1.174" class="r" transform="matrix(0.14688 0 0 0.16 373.71141 559.64286)">0.030</text><text stroke-width="1.174" class="r" transform="matrix(0.14688 0 0 0.16 373.72575 539.08571)">0.035</text><text stroke-width="1.174" class="r" transform="matrix(0.14688 0 0 0.16 373.71141 518.52857)">0.040</text><text stroke-width="1.174" class="r" transform="matrix(0.14688 0 0 0.16 373.72575 497.97143)">0.045</text><text stroke-width="1.174" class="r" transform="matrix(0.14688 0 0 0.16 373.71141 477.41429)">0.050</text><text stroke-width="1.174" class="r" transform="matrix(0.14688 0 0 0.16 373.72575 456.85714)">0.055</text><text stroke-width="1.174" class="r" transform="matrix(0.14688 0 0 0.16 373.71141 436.3)">0.060</text><text stroke-width="2.231" class="i" transform="matrix(0 -0.19187 0.16749 0 15.03643 165.5715)">σ</text><text stroke-width="2.407" class="r" transform="matrix(0 -0.18211 0.19191 0 20.91259 142.61135)">eff</text><text stroke-width="0.991" class="r" transform="matrix(0 -0.17381 0.18969 0 15.06166 120.0638)">(K)</text><text stroke-width="2.346" class="i" transform="matrix(0 -0.16966 0.1713 0 370.63271 174.40533)">σ</text><text stroke-width="0.967" class="r" transform="matrix(0 -0.17656 0.19631 0 370.92079 123.3759)">(dex)</text><text stroke-width="2.535" class="i" transform="matrix(0 -0.15754 0.15798 0 15.34572 366.66923)">σ</text><text stroke-width="0.979" class="r" transform="matrix(0 -0.17161 0.19686 0 15.80905 306.25417)">(dex)</text><text stroke-width="2.394" class="i" transform="matrix(0 -0.17774 0.15703 0 370.19665 365.42939)">σ</text><text stroke-width="1.024" class="r" transform="matrix(0 -0.1731 0.17866 0 369.89645 306.26069)">(dex)</text><text stroke-width="2.519" class="i" transform="matrix(0 -0.1636 0.15417 0 15.24944 554.08728)">σ</text><text stroke-width="0.963" class="r" transform="matrix(0 -0.17705 0.19741 0 15.89731 494.57807)">(dex)</text><text stroke-width="2.269" class="i" transform="matrix(0 -0.18985 0.16369 0 362.84015 554.66548)">σ</text><text stroke-width="1.267" class="r" transform="matrix(0 -0.09432 0.21386 0 363.93876 542)">[</text><text stroke-width="2.62" class="i" transform="matrix(0 -0.15634 0.11412 0 362.48298 536.66565)">α</text><text stroke-width="0.707" class="r" transform="matrix(0 -0.25195 0.25712 0 366.24891 526)">/</text><text stroke-width="1.198" class="r" transform="matrix(0 -0.1033 0.21869 0 364.2741 501.27325)">]</text><text stroke-width="0.968" class="r" transform="matrix(0 -0.17903 0.193 0 362.79122 494.98677)">(dex)</text><text stroke-width="1.053" class="r" transform="matrix(0.14795 0 0 0.19741 689.34981 75.39731)">(</text><text stroke-width="1.027" class="r" transform="matrix(0.18256 0 0 0.16819 694.37874 74.13576)">S</text><text stroke-width="0.709" class="r" transform="matrix(0.24475 0 0 0.2631 705.3 79.04307)">/</text><text stroke-width="1.081" class="r" transform="matrix(0.15513 0 0 0.17868 714.0531 74.3)">N</text><text stroke-width="1.014" class="r" transform="matrix(0.15963 0 0 0.19741 727.18555 75.39731)">)</text><text stroke-width="2.558" class="r" transform="matrix(0.11646 0 0 0.11815 742.77642 68.1)">1</text></g>
<g fill="#0a0a0a" stroke="#0a0a0a" stroke-linejoin="round"><text stroke-width="2.519" class="r" transform="matrix(0.2005 0 0 0.19647 176.95874 239.70814)">S/N</text><text stroke-width="2.519" class="r" transform="matrix(0.2005 0 0 0.19647 532.05874 239.70814)">S/N</text><text stroke-width="2.519" class="r" transform="matrix(0.2005 0 0 0.19647 176.95874 427.10814)">S/N</text><text stroke-width="2.519" class="r" transform="matrix(0.2005 0 0 0.19647 532.05874 427.10814)">S/N</text><text stroke-width="2.519" class="r" transform="matrix(0.2005 0 0 0.19647 176.95874 614.40814)">S/N</text><text stroke-width="2.519" class="r" transform="matrix(0.2005 0 0 0.19647 532.05874 614.40814)">S/N</text></g>
<g fill="#1e1e1e"><text class="b" transform="matrix(0 -0.16661 0.20617 0 14.9 154.36032)">T</text><text class="b" transform="matrix(0 -0.18021 0.18807 0 370.34923 162.75197)">log</text><text class="b" transform="matrix(0 -0.16168 0.17441 0 370.65063 134.12632)">g</text><text class="b" transform="matrix(0 -0.18414 0.18003 0 14.19139 357.21667)">[M/H]</text><text class="b" transform="matrix(0 -0.17916 0.17641 0 369.13988 354.92974)">[C/M]</text><text class="b" transform="matrix(0 -0.18729 0.18124 0 14.57522 544.99004)">[N/M]</text><text class="b" transform="matrix(0 -0.17039 0.20312 0 362.6 517.99119)">M</text></g>
<g fill="#111" stroke="#111" stroke-linejoin="round"><text stroke-width="2.025" class="r" transform="matrix(0.18987 0 0 0.2054 667.55301 22.69942)">LAMOST</text><text stroke-width="1.937" class="r" transform="matrix(0.20755 0 0 0.2054 666.44872 48.49942)">Cannon</text></g>
</g></svg></body></html>
